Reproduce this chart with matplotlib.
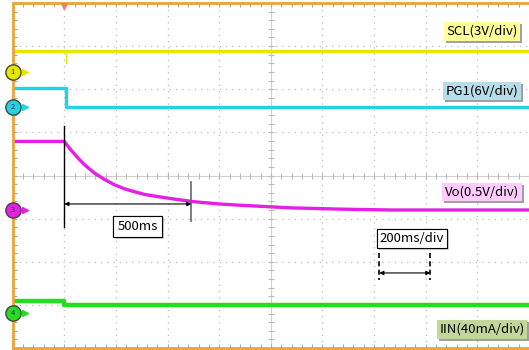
import numpy as np
import matplotlib
matplotlib.use("Agg")
import matplotlib.pyplot as plt
import matplotlib.patheffects as pe

plt.rcParams['font.family'] = ['Noto Sans CJK JP', 'DejaVu Sans']

# screen is 10 x 8 divisions, 200ms/div; values in divisions
step_t = 1.0
t_end = 10.0

scl_level = [2.88, 2.88]
pg1_level = [2.04, 1.58]     # before / after the step
iin_level = [-2.90, -3.00]

vo_t = [0.0, 1.0, 1.1, 1.21, 1.30, 1.40, 1.59, 1.79, 1.98, 2.17, 2.37, 2.56, 2.76,
        3.15, 3.53, 4.0, 4.41, 5.38, 6.35, 7.31, 8.5, 10.0]
vo_v = [0.79, 0.79, 0.63, 0.48, 0.36, 0.24, 0.05, -0.10, -0.22, -0.31, -0.38, -0.44,
        -0.48, -0.55, -0.61, -0.66, -0.69, -0.75, -0.78, -0.80, -0.80, -0.80]

ch_labels = ["SCL(3V/div)", "PG1(6V/div)", "Vo(0.5V/div)", "IIN(40mA/div)"]
ch_colors = ["#E6E600", "#22D3E6", "#E61EE6", "#22DD22"]
ch_boxes = ["#FFFF99", "#B7DEE8", "#FFCCFF", "#C4D79B"]
label_y = [3.34, 1.96, -0.38, -3.57]
marker_y = [2.40, 1.59, -0.80, -3.19]

fig = plt.figure(figsize=(5.29, 3.5), dpi=100)
ax = fig.add_axes([12.7 / 529, 2 / 350, 1 - 12.7 / 529, 345 / 350])
ax.set_xlim(0, 10)
ax.set_ylim(-4, 4)

# graticule
for gx in range(1, 10):
    if gx != 5:
        ax.axvline(gx, color="#BDBDBD", lw=0.9, linestyle=(0, (1, 4)), zorder=0)
for gy in range(-3, 4):
    if gy != 0:
        ax.axhline(gy, color="#BDBDBD", lw=0.9, linestyle=(0, (1, 4)), zorder=0)
ax.axvline(5, color="#CFCFCF", lw=0.8, zorder=0)
ax.axhline(0, color="#CFCFCF", lw=0.8, zorder=0)
minor_x = np.arange(0, 10.01, 0.2)
minor_y = np.arange(-4, 4.01, 0.2)
ax.plot(minor_x, np.zeros_like(minor_x), linestyle="none", marker="|",
        ms=4, color="#BBBBBB", mew=0.8, zorder=0)
ax.plot(np.full_like(minor_y, 5), minor_y, linestyle="none", marker="_",
        ms=4, color="#BBBBBB", mew=0.8, zorder=0)

ax.set_xticks(minor_x)
ax.set_yticks(minor_y)
ax.tick_params(direction="in", length=3, color="#AAAAAA", top=True,
               right=False, labelleft=False, labelbottom=False)
for side in ["top", "left", "bottom"]:
    ax.spines[side].set_color("#EBA33A")
    ax.spines[side].set_linewidth(2)
ax.spines["right"].set_visible(False)

# traces
lw = 2.4
ax.plot([0, t_end], scl_level, color=ch_colors[0], lw=lw)
ax.plot([step_t + 0.04, step_t + 0.04], [scl_level[0], 2.62], color=ch_colors[0], lw=0.8)
ax.plot([0, step_t + 0.04, step_t + 0.04, t_end],
        [pg1_level[0], pg1_level[0], pg1_level[1], pg1_level[1]], color=ch_colors[1], lw=lw)
ax.plot(vo_t, vo_v, color=ch_colors[2], lw=lw)
ax.plot([0, step_t, step_t, t_end],
        [iin_level[0], iin_level[0], iin_level[1], iin_level[1]], color=ch_colors[3], lw=lw + 0.8)

# channel markers on the left edge
for i in range(4):
    ax.plot(0, marker_y[i], marker="o", ms=11, mfc=ch_colors[i], mec="#444444",
            mew=1.0, clip_on=False, zorder=5)
    ax.plot(0.24, marker_y[i], marker=">", ms=4.5, color=ch_colors[i],
            clip_on=False, zorder=5)
    ax.text(0, marker_y[i], str(i + 1), fontsize=5.5, ha="center", va="center",
            color="#333333", zorder=6)

# trigger marker
ax.plot(step_t, 3.93, marker="v", ms=5, color="#E8826A", clip_on=False, zorder=5)

# channel labels
for i in range(4):
    t = ax.text(9.09, label_y[i], ch_labels[i], fontsize=9.5, ha="center", va="center",
                bbox=dict(boxstyle="square,pad=0.2", fc=ch_boxes[i], ec="none"))
    t.get_bbox_patch().set_path_effects(
        [pe.withSimplePatchShadow(offset=(1.5, -1.5), shadow_rgbFace="#888888", alpha=0.8),
         pe.Normal()])

# 500ms measurement
ax.plot([step_t, step_t], [1.15, -1.19], color="black", lw=1)
ax.plot([3.46, 3.46], [-0.15, -1.06], color="#666666", lw=1.2)
ax.annotate("", xy=(3.46, -0.66), xytext=(step_t, -0.66),
            arrowprops=dict(arrowstyle="<|-|>", color="black", lw=0.8,
                            mutation_scale=6, shrinkA=0, shrinkB=0))
t = ax.text(2.42, -1.18, "500ms", fontsize=9.5, ha="center", va="center",
            bbox=dict(boxstyle="square,pad=0.3", fc="white", ec="black", lw=0.8))
t.get_bbox_patch().set_path_effects(
    [pe.withSimplePatchShadow(offset=(1.5, -1.5), shadow_rgbFace="#888888"), pe.Normal()])

# 200ms/div scale
ax.plot([7.1, 7.1], [-1.80, -2.42], color="black", lw=1.2, linestyle=(0, (3, 2)))
ax.plot([8.09, 8.09], [-1.80, -2.42], color="black", lw=1.2, linestyle=(0, (3, 2)))
ax.annotate("", xy=(8.09, -2.26), xytext=(7.1, -2.26),
            arrowprops=dict(arrowstyle="<|-|>", color="black", lw=0.8,
                            mutation_scale=6, shrinkA=0, shrinkB=0))
t = ax.text(7.73, -1.46, "200ms/div", fontsize=9.5, ha="center", va="center",
            bbox=dict(boxstyle="square,pad=0.2", fc="white", ec="black", lw=0.8))
t.get_bbox_patch().set_path_effects(
    [pe.withSimplePatchShadow(offset=(1.5, -1.5), shadow_rgbFace="#888888"), pe.Normal()])

fig.savefig("out.png", dpi=100)
